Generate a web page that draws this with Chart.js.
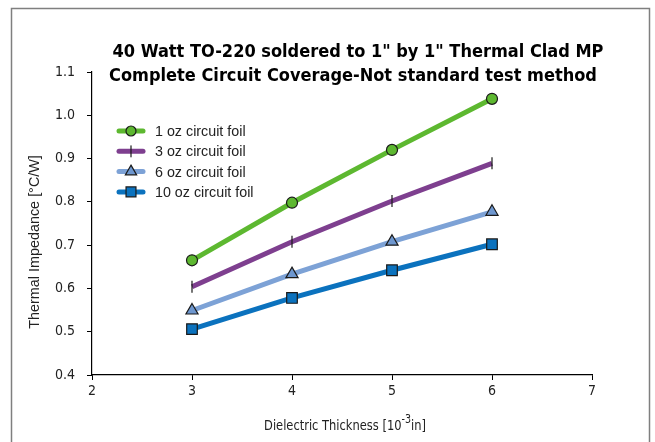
<!DOCTYPE html>
<html>
<head>
<meta charset="utf-8">
<script src="https://cdn.jsdelivr.net/npm/chart.js@4.4.1/dist/chart.umd.min.js"></script>
<style>
  html, body { margin: 0; padding: 0; background: #fff; }
  #wrap { width: 655px; height: 442px; position: relative; }
</style>
</head>
<body>
<div id="wrap"><canvas id="c" width="655" height="442"></canvas></div>
<script>
// Dielectric thickness (10^-3 in)
const thickness = [3, 4, 5, 6];

// Thermal impedance (°C/W) per circuit foil weight
const foil1oz  = [0.665, 0.798, 0.920, 1.038];
const foil3oz  = [0.604, 0.708, 0.802, 0.889];
const foil6oz  = [0.549, 0.633, 0.708, 0.777];
const foil10oz = [0.506, 0.578, 0.642, 0.702];

const seriesNames = ['1 oz circuit foil', '3 oz circuit foil', '6 oz circuit foil', '10 oz circuit foil'];

const titleLines = ['40 Watt TO-220 soldered to 1" by 1" Thermal Clad MP',
                    'Complete Circuit Coverage-Not standard test method'];
const yTitle = 'Thermal Impedance [°C/W]';

const NARROW = "'Liberation Sans Narrow', 'DejaVu Sans Condensed', 'Liberation Sans', sans-serif";
const REGULAR = "'Liberation Sans', Arial, sans-serif";

function pts(vals) { return thickness.map((x, i) => ({ x: x, y: vals[i] })); }

const styles = [
  { color: '#5DB830', fill: '#5DB830', point: 'circle',   radius: 5.5, rot: 0 },
  { color: '#7E3F8F', fill: '#7E3F8F', point: 'line',     radius: 6,   rot: 90 },
  { color: '#7DA2D6', fill: '#6E97CF', point: 'triangle', radius: 7,   rot: 0 },
  { color: '#0B72BE', fill: '#0B72BE', point: 'rect',     radius: 7.5, rot: 0 }
];
const seriesValues = [foil1oz, foil3oz, foil6oz, foil10oz];

const datasets = seriesValues.map((vals, i) => ({
  label: seriesNames[i],
  data: pts(vals),
  borderColor: styles[i].color,
  borderWidth: 5,
  pointStyle: styles[i].point,
  pointRotation: styles[i].rot,
  pointRadius: styles[i].radius,
  pointHoverRadius: styles[i].radius,
  pointBackgroundColor: styles[i].fill,
  pointBorderColor: '#1a1a1a',
  pointBorderWidth: 1.2,
  tension: 0,
  clip: false
}));

// Frame, title, legend and axis titles
const decorations = {
  id: 'decorations',
  beforeDraw(chart) {
    const ctx = chart.ctx;
    ctx.save();
    ctx.fillStyle = '#fff';
    ctx.fillRect(0, 0, chart.width, chart.height);
    ctx.strokeStyle = '#7f7f7f';
    ctx.lineWidth = 1.5;
    ctx.strokeRect(11.5, 8.5, 638, 450);
    ctx.restore();
  },
  afterDraw(chart) {
    const ctx = chart.ctx;
    ctx.save();
    // Title
    ctx.fillStyle = '#000';
    ctx.font = 'bold 18px ' + NARROW;
    ctx.textAlign = 'center';
    ctx.textBaseline = 'middle';
    ctx.fillText(titleLines[0], 358, 52);
    ctx.fillText(titleLines[1], 353, 76);

    // Legend
    ctx.font = '14.3px ' + REGULAR;
    ctx.textAlign = 'left';
    chart.data.datasets.forEach((ds, i) => {
      const y = 131 + i * 20.3;
      ctx.strokeStyle = ds.borderColor;
      ctx.lineWidth = 5;
      ctx.lineCap = 'round';
      ctx.beginPath();
      ctx.moveTo(119, y);
      ctx.lineTo(143, y);
      ctx.stroke();
      ctx.fillStyle = ds.pointBackgroundColor;
      ctx.strokeStyle = ds.pointBorderColor;
      ctx.lineWidth = ds.pointBorderWidth;
      Chart.helpers.drawPoint(ctx, {
        pointStyle: ds.pointStyle,
        rotation: ds.pointRotation,
        radius: ds.pointRadius - 0.5,
        borderWidth: ds.pointBorderWidth
      }, 131, y);
      ctx.fillStyle = '#222';
      ctx.fillText(ds.label, 155, y + 1);
    });

    // Y axis title
    ctx.font = '14.4px ' + REGULAR;
    ctx.fillStyle = '#222';
    ctx.save();
    ctx.translate(35, 242);
    ctx.rotate(-Math.PI / 2);
    ctx.textAlign = 'center';
    ctx.textBaseline = 'middle';
    ctx.fillText(yTitle, 0, 0);
    ctx.restore();

    // X axis title with superscript exponent, horizontally condensed
    const squeeze = 0.88;
    const parts = [
      { t: 'Dielectric Thickness [10', f: '14.5px ' + NARROW, dy: 0 },
      { t: '-3', f: '12px ' + NARROW, dy: -7 },
      { t: 'in]', f: '14.5px ' + NARROW, dy: 0 }
    ];
    let total = 0;
    parts.forEach(p => { ctx.font = p.f; total += ctx.measureText(p.t).width; });
    ctx.save();
    ctx.translate(345, 430);
    ctx.scale(squeeze, 1);
    let x = -total / 2;
    ctx.textAlign = 'left';
    ctx.textBaseline = 'alphabetic';
    parts.forEach(p => {
      ctx.font = p.f;
      ctx.fillText(p.t, x, p.dy);
      x += ctx.measureText(p.t).width;
    });
    ctx.restore();
    ctx.restore();
  }
};

new Chart(document.getElementById('c'), {
  type: 'line',
  data: { datasets: datasets },
  plugins: [decorations],
  options: {
    responsive: false,
    animation: false,
    layout: { padding: { top: 72, right: 63, bottom: 0, left: 0 } },
    plugins: {
      legend: { display: false },
      title: { display: false },
      tooltip: { enabled: false }
    },
    scales: {
      x: {
        type: 'linear',
        min: 2, max: 7,
        afterFit(s) { s.height = 67; },
        ticks: { stepSize: 1, color: '#222', padding: 3, font: { family: NARROW, size: 14 } },
        grid: { display: true, drawOnChartArea: false, drawTicks: true, tickLength: 5, color: '#000' },
        border: { color: '#000', width: 1.2 }
      },
      y: {
        min: 0.4, max: 1.1,
        afterFit(s) { s.width = 92; },
        ticks: {
          stepSize: 0.1, color: '#222', padding: 12,
          font: { family: NARROW, size: 14 },
          callback: v => Number(v).toFixed(1)
        },
        grid: { display: true, drawOnChartArea: false, drawTicks: true, tickLength: 5, color: '#000' },
        border: { color: '#000', width: 1.2 }
      }
    }
  }
});
</script>
</body>
</html>
